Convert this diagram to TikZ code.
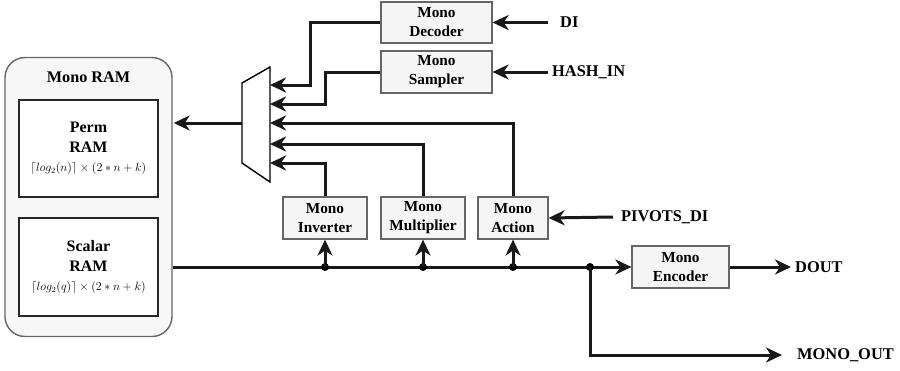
\documentclass[tikz,border=0pt]{standalone}
\usepackage{fontspec}
\setmainfont{Liberation Serif}
\usetikzlibrary{arrows.meta,calc}
\begin{document}
\begin{tikzpicture}[x=1pt,y=-1pt,
  wire/.style={line width=3pt,draw=black!90},
  arr/.style={wire,-{Stealth[length=16pt,width=15pt,inset=5pt]}},
  unit/.style={draw=black!60,line width=1.2pt,fill=black!4,
    align=center,font=\fontsize{15.3}{19}\selectfont\bfseries,inner sep=0pt},
  ram/.style={draw=black!85,line width=1.4pt,fill=white,align=center,inner sep=0pt,
    font=\fontsize{16}{20}\selectfont\bfseries},
  sig/.style={font=\fontsize{16.4}{18}\selectfont\bfseries,anchor=west,inner sep=0pt},
  dot/.style={circle,fill=black,inner sep=0pt,minimum size=8pt}]
\useasboundingbox (0,0) rectangle (900,370);

% memory block
\node[draw=black!60,line width=1.4pt,fill=black!3,rounded corners=20pt,
  minimum width=167pt,minimum height=279pt] (mram) at (88.5,197) {};
\node[font=\fontsize{16.2}{18}\selectfont\bfseries] (mramlbl) at (88.5,77) {Mono RAM};
\node[ram,minimum width=139pt,minimum height=97pt] (perm) at (88.5,148.5)
  {Perm\\RAM\\[-1pt]{\normalfont\fontsize{12}{14}\selectfont$\lceil log_2(n)\rceil\times(2*n+k)$}};
\node[ram,minimum width=139pt,minimum height=98pt] (scalar) at (88.5,267)
  {Scalar\\RAM\\[-1pt]{\normalfont\fontsize{12}{14}\selectfont$\lceil log_2(q)\rceil\times(2*n+k)$}};

% processing units
\node[unit,minimum width=111pt,minimum height=41pt] (dec) at (436.5,22.5) {Mono\\Decoder};
\node[unit,minimum width=111pt,minimum height=42pt] (samp) at (436.5,72) {Mono\\Sampler};
\node[unit,minimum width=84pt,minimum height=42pt] (inv) at (325,218) {Mono\\Inverter};
\node[unit,minimum width=84pt,minimum height=42pt] (mul) at (423,218) {Mono\\Multiplier};
\node[unit,minimum width=70pt,minimum height=42pt] (act) at (513,218) {Mono\\Action};
\node[unit,minimum width=97pt,minimum height=42pt] (enc) at (680.5,267) {Mono\\Encoder};

% multiplexer
\coordinate (mlt) at (242,83);
\coordinate (mlb) at (242,163);
\coordinate (mrt) at (270,67);
\coordinate (mrb) at (270,182);
\draw[line width=1.4pt,fill=white] (mlt) -- (mrt) -- (mrb) -- (mlb) -- cycle;
\coordinate (mout) at (242,123);

% external signals
\node[sig] (di) at (560,22.5) {DI};
\node[sig] (hash) at (552,72) {HASH\_IN};
\node[sig] (piv) at (621,217) {PIVOTS\_DI};
\node[sig] (dout) at (795,267) {DOUT};
\node[sig] (mout2) at (797,355) {MONO\_OUT};

\draw[arr] ($(di.west)+(-12,0)$) -- (dec.east);
\draw[arr] ($(hash.west)+(-4,0)$) -- (samp.east);
\draw[arr] ($(piv.west)+(-8,0)$) -- (act.east);

% mux inputs
\draw[arr] (dec.west) -| (310,85) -- (270,85);
\draw[arr] (samp.west) -| (325,104) -- (270,104);
\draw[arr] (act.north) |- (270,123);
\draw[arr] (mul.north) |- (270,144);
\draw[arr] (inv.north) |- (270,163);

% mux output to RAM
\draw[arr] (mout) -- ($(mram.east|-mout)+(1,0)$);

% data bus
\coordinate (bus0) at (mram.east|-scalar);
\coordinate (j) at (590,267);
\draw[arr] (bus0) -- (enc.west);
\node[dot] (dinv) at (inv.south|-bus0) {};
\node[dot] (dmul) at (mul.south|-bus0) {};
\node[dot] (dact) at (act.south|-bus0) {};
\node[dot] (dj) at (j) {};
\draw[arr] (dinv.center) -- (inv.south);
\draw[arr] (dmul.center) -- (mul.south);
\draw[arr] (dact.center) -- (act.south);

\draw[arr] (enc.east) -- ($(dout.west)+(-4,0)$);
\draw[arr] (dj.center) |- ($(mout2.west)+(-15,0)$);
\end{tikzpicture}
\end{document}
